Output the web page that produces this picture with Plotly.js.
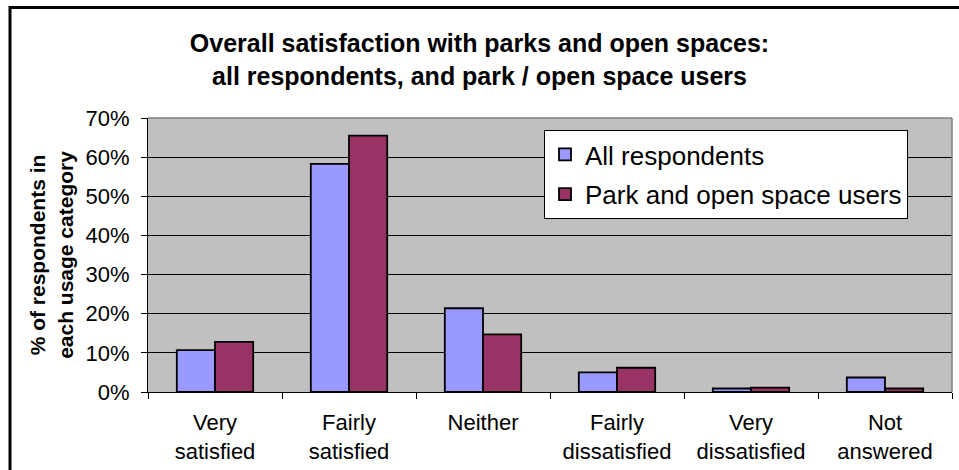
<!DOCTYPE html>
<html>
<head>
<meta charset="utf-8">
<script src="https://cdn.plot.ly/plotly-3.0.1.min.js"></script>
<style>
html,body{margin:0;padding:0;background:#fff;}
#chart{width:959px;height:470px;}
</style>
</head>
<body>
<div id="chart"></div>
<script>
var categories = ["Very<br>satisfied", "Fairly<br>satisfied", "Neither", "Fairly<br>dissatisfied", "Very<br>dissatisfied", "Not<br>answered"];
var allRespondents = [10.7, 58.3, 21.4, 5.0, 0.9, 3.7];
var parkUsers = [12.8, 65.5, 14.7, 6.2, 1.1, 0.9];
var seriesNames = ["All respondents", "Park and open space users"];
var yTickVals = [0, 10, 20, 30, 40, 50, 60, 70];
var yTickText = ["0%", "10%", "20%", "30%", "40%", "50%", "60%", "70%"];

var W = 959, H = 470, mL = 148, mR = 7, mT = 118, mB = 78;
var pw = W - mL - mR, ph = H - mT - mB;
function px2x(px){ return (px - mL) / pw; }
function py2y(py){ return (H - mB - py) / ph; }

var traces = [
  {type: "bar", name: seriesNames[0], x: categories, y: allRespondents, legendgroup: "a",
   marker: {color: "#9999FF", line: {color: "#000000", width: 1.8}}, hoverinfo: "none"},
  {type: "bar", name: seriesNames[1], x: categories, y: parkUsers, legendgroup: "b",
   marker: {color: "#993366", line: {color: "#000000", width: 1.8}}, hoverinfo: "none"}
];

var layout = {
  width: W, height: H,
  margin: {l: mL, r: mR, t: mT, b: mB, pad: 0},
  paper_bgcolor: "#ffffff",
  plot_bgcolor: "#C0C0C0",
  font: {family: "Liberation Sans, Arial, sans-serif", color: "#000000", size: 22},
  title: {
    text: "<b>Overall satisfaction with parks and open spaces:<br>all respondents, and park / open space users</b>",
    font: {family: "Liberation Sans, Arial, sans-serif", size: 25, color: "#000"},
    x: 0.5, xanchor: "center", xref: "container",
    y: 1 - 52 / H, yanchor: "middle", yref: "container"
  },
  barmode: "group",
  bargap: 0.43,
  bargroupgap: 0,
  showlegend: true,
  legend: {
    x: px2x(544), y: py2y(130), xanchor: "left", yanchor: "top",
    bgcolor: "#ffffff", bordercolor: "#000000", borderwidth: 1,
    font: {size: 26, family: "Liberation Sans, Arial, sans-serif"},
    traceorder: "grouped", tracegroupgap: 3,
    entrywidth: 339, entrywidthmode: "pixels"
  },
  xaxis: {
    type: "category",
    showline: true, linecolor: "#000", linewidth: 1,
    ticks: "outside", tickson: "boundaries", ticklen: 6, tickcolor: "#000", tickwidth: 1,
    ticklabelstandoff: 11,
    tickfont: {size: 22},
    showgrid: false, zeroline: false, fixedrange: true
  },
  yaxis: {
    range: [0, 70],
    tickvals: yTickVals, ticktext: yTickText,
    showline: true, linecolor: "#000", linewidth: 1,
    ticks: "outside", ticklen: 6, tickcolor: "#000", tickwidth: 1,
    ticklabelstandoff: 7,
    tickfont: {size: 22},
    showgrid: true, gridcolor: "#000000", gridwidth: 1,
    zeroline: false, fixedrange: true,
    title: {
      text: "<b>% of respondents in<br>each usage category</b>",
      font: {size: 21},
      standoff: 6
    }
  },
  shapes: [
    {type: "line", xref: "paper", yref: "paper", x0: 0, x1: 1, y0: 1, y1: 1, line: {color: "#808080", width: 1.5}},
    {type: "line", xref: "paper", yref: "paper", x0: 1, x1: 1, y0: 0, y1: 1, line: {color: "#808080", width: 1.5}},
    {type: "path", xref: "paper", yref: "paper",
     path: "M " + px2x(965) + "," + py2y(7.5) + " L " + px2x(10) + "," + py2y(7.5) + " L " + px2x(10) + "," + py2y(480),
     line: {color: "#000000", width: 3}}
  ]
};

Plotly.newPlot("chart", traces, layout, {displayModeBar: false, staticPlot: true});
</script>
</body>
</html>
